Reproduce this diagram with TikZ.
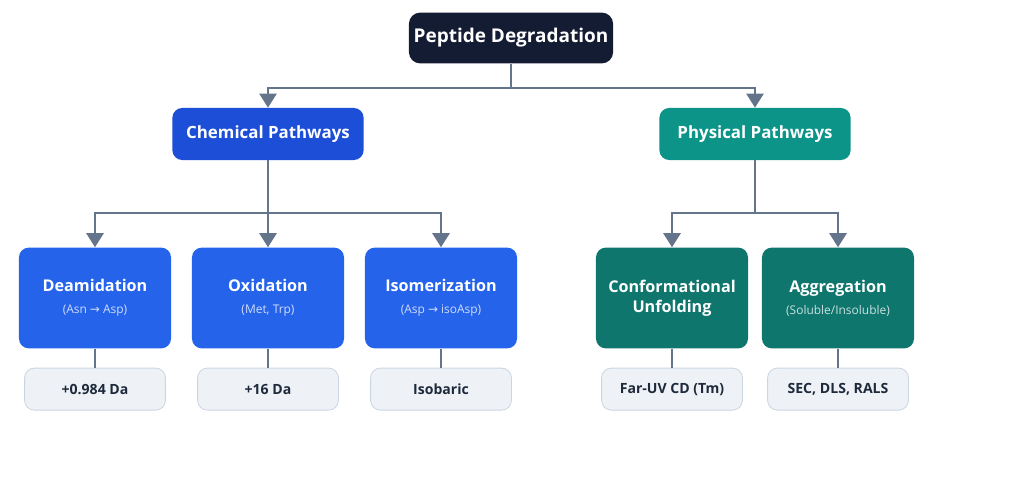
\documentclass[tikz,border=0pt]{standalone}
\usepackage{fontspec}
\setmainfont{Open Sans}
\newfontfamily\arrowfont{DejaVu Sans}
\usepackage{xcolor}
\usetikzlibrary{positioning,arrows.meta,calc}
\definecolor{titlenavy}{HTML}{141C33}
\definecolor{chemblue}{HTML}{1D4ED8}
\definecolor{leafblue}{HTML}{2563EB}
\definecolor{physteal}{HTML}{0D9488}
\definecolor{leafteal}{HTML}{0F766E}
\definecolor{linegray}{HTML}{64748B}
\definecolor{measfill}{HTML}{EEF2F6}
\definecolor{measdraw}{HTML}{CBD5E1}
\definecolor{meastext}{HTML}{1E293B}
\newcommand{\rarr}{{\arrowfont\char"2192}}
\newcommand{\subtxt}[2]{{\fontsize{8.5}{12}\selectfont\mdseries\color{white!78!#1}#2}}
\tikzset{
  topbox/.style  = {rounded corners=8pt, align=center, fill=titlenavy, text=white, font=\fontsize{13.5}{16}\selectfont\bfseries, minimum width=5.07cm, minimum height=1.27cm},
  pathbox/.style = {rounded corners=7pt, align=center, text=white, font=\fontsize{12}{14}\selectfont\bfseries, minimum width=4.78cm, minimum height=1.3cm},
  leafbox/.style = {rounded corners=7pt, align=center, text=white, font=\fontsize{11.5}{14.5}\selectfont\bfseries, minimum width=3.8cm, minimum height=2.52cm},
  measbox/.style = {rounded corners=7pt, align=center, fill=measfill, draw=measdraw, line width=0.6pt, text=meastext, font=\fontsize{10}{12}\selectfont\bfseries, minimum width=3.52cm, minimum height=1.05cm},
  link/.style    = {line width=2pt, draw=linegray},
  flow/.style    = {link, -{Triangle[width=12pt, length=10pt]}},
  tie/.style     = {line width=1.6pt, draw=linegray},
}

\begin{document}
\begin{tikzpicture}[x=0.025cm, y=-0.025cm, node distance=0.475cm]
  \useasboundingbox (0,0) rectangle (1024,486);
  % top level
  \node[topbox] (top) at (511,38) {Peptide Degradation};
  \node[pathbox, fill=chemblue] (chem) at (268,134) {Chemical Pathways};
  \node[pathbox, fill=physteal] (phys) at (755,134) {Physical Pathways};
  \coordinate (split) at (511,88);
  \draw[link] (top) -- (split);
  \draw[flow] (split) -| (chem);
  \draw[flow] (split) -| (phys);

  % chemical branch
  \node[leafbox, fill=leafblue] (deam) at (95,298) {Deamidation\\[1pt]\subtxt{leafblue}{(Asn \rarr\ Asp)}};
  \node[leafbox, fill=leafblue] (oxid) at (268,298) {Oxidation\\[1pt]\subtxt{leafblue}{(Met, Trp)}};
  \node[leafbox, fill=leafblue] (isom) at (441,298) {Isomerization\\[1pt]\subtxt{leafblue}{(Asp \rarr\ isoAsp)}};
  \coordinate (csplit) at (268,213);
  \draw[link] (chem) -- (csplit);
  \draw[flow] (csplit) -| (deam);
  \draw[flow] (csplit) -- (oxid);
  \draw[flow] (csplit) -| (isom);

  % physical branch
  \node[leafbox, fill=leafteal] (unfo) at (672,298) {Conformational\\Unfolding};
  \node[leafbox, fill=leafteal] (aggr) at (838,298) {Aggregation\\[1pt]\subtxt{leafteal}{(Soluble/Insoluble)}};
  \coordinate (psplit) at (755,213);
  \draw[link] (phys) -- (psplit);
  \draw[flow] (psplit) -| (unfo);
  \draw[flow] (psplit) -| (aggr);

  % readouts
  \node[measbox, below=of deam] (mdeam) {+0.984 Da};
  \node[measbox, below=of oxid] (moxid) {+16 Da};
  \node[measbox, below=of isom] (misom) {Isobaric};
  \node[measbox, below=of unfo] (munfo) {Far-UV CD (Tm)};
  \node[measbox, below=of aggr] (maggr) {SEC, DLS, RALS};
  \foreach \a/\b in {deam/mdeam, oxid/moxid, isom/misom, unfo/munfo, aggr/maggr}
    \draw[tie] (\a) -- (\b);
\end{tikzpicture}
\end{document}
